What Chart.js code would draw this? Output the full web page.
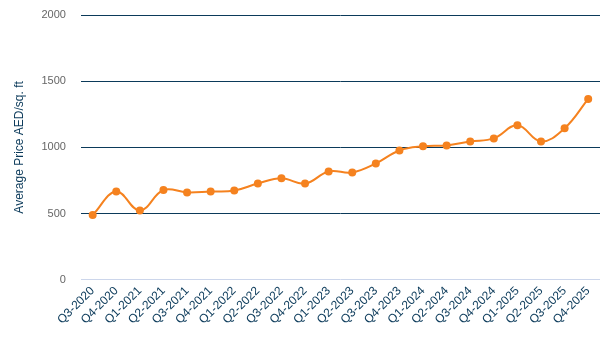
<!DOCTYPE html>
<html>
<head>
<meta charset="utf-8">
<script src="https://cdn.jsdelivr.net/npm/chart.js@4/dist/chart.umd.min.js"></script>
<style>
  html, body { margin: 0; padding: 0; background: #fff; }
  #wrap { width: 600px; height: 347px; position: relative; }
</style>
</head>
<body>
<div id="wrap"><canvas id="priceChart"></canvas></div>
<script>
  // quarters on the x axis
  const quarters = [
    'Q3-2020', 'Q4-2020', 'Q1-2021', 'Q2-2021', 'Q3-2021', 'Q4-2021',
    'Q1-2022', 'Q2-2022', 'Q3-2022', 'Q4-2022', 'Q1-2023', 'Q2-2023',
    'Q3-2023', 'Q4-2023', 'Q1-2024', 'Q2-2024', 'Q3-2024', 'Q4-2024',
    'Q1-2025', 'Q2-2025', 'Q3-2025', 'Q4-2025'
  ];

  // average price, AED per sq. ft
  const avgPrice = [
    489, 667, 523, 678, 660, 667,
    674, 727, 767, 727, 818, 811,
    879, 977, 1008, 1015, 1045, 1068,
    1167, 1045, 1144, 1366
  ];

  const yTicks = [0, 500, 1000, 1500, 2000];

  const orange = '#f5821f';
  const navy = '#0b3a5a';
  const fontFamily = 'Liberation Sans, Arial, sans-serif';

  new Chart(document.getElementById('priceChart'), {
    type: 'line',
    data: {
      labels: quarters,
      datasets: [{
        label: 'Average Price',
        data: avgPrice,
        borderColor: orange,
        backgroundColor: orange,
        borderWidth: 2,
        pointRadius: 4,
        pointBorderWidth: 0,
        tension: 0.4,
        fill: false
      }]
    },
    options: {
      responsive: true,
      maintainAspectRatio: false,
      animation: false,
      layout: { autoPadding: false, padding: { top: 15, right: 0, bottom: 16, left: 12 } },
      plugins: {
        legend: { display: false },
        tooltip: { enabled: false }
      },
      scales: {
        x: {
          offset: true,
          grid: { display: false, drawTicks: false },
          border: { display: false },
          // the rotated labels hang to the left, keep the plot flush right
          afterFit: (axis) => { axis.paddingRight = 0; },
          ticks: {
            color: navy,
            font: { family: fontFamily, size: 12 },
            minRotation: 45,
            maxRotation: 45,
            autoSkip: false,
            padding: 4
          }
        },
        y: {
          min: 0,
          max: 2000,
          afterBuildTicks: (axis) => { axis.ticks = yTicks.map((v) => ({ value: v })); },
          afterFit: (axis) => { axis.paddingTop = 0; axis.paddingBottom = 0; },
          grid: {
            drawTicks: false,
            color: (ctx) => (ctx.tick && ctx.tick.value === 0 ? '#ccd6eb' : navy),
            lineWidth: 1
          },
          border: { display: false },
          ticks: {
            color: '#666666',
            font: { family: fontFamily, size: 11 },
            padding: 15,
            callback: (v) => String(v)
          },
          title: {
            display: true,
            text: 'Average Price AED/sq. ft',
            color: navy,
            font: { family: fontFamily, size: 12 },
            padding: { top: 0, bottom: 0 }
          }
        }
      }
    }
  });
</script>
</body>
</html>
